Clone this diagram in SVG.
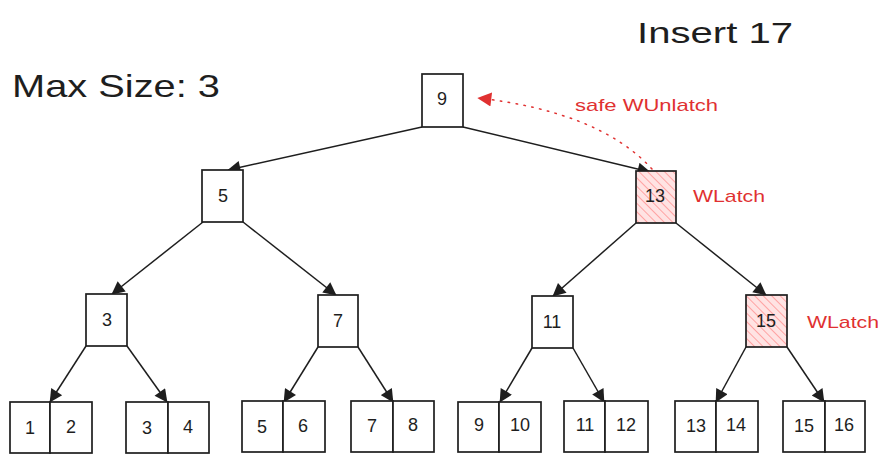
<svg xmlns="http://www.w3.org/2000/svg" width="890" height="463" viewBox="0 0 890 463">
  <style>
    .box { fill: #ffffff; stroke: #1e1e1e; stroke-width: 1.7; }
    .latched { fill: url(#hatch); stroke: #1e1e1e; stroke-width: 1.7; }
    .num { font-family: "Liberation Sans", Arial, sans-serif; font-size: 18px; fill: #1e1e1e; text-anchor: middle; dominant-baseline: central; }
    .edge { stroke: #1e1e1e; stroke-width: 1.5; fill: none; marker-end: url(#arrow); }
    .note { font-family: "Liberation Sans", Arial, sans-serif; font-size: 17px; fill: #e03131; }
    .title { font-family: "Liberation Sans", Arial, sans-serif; fill: #1e1e1e; }
  </style>
  <defs>
    <marker id="arrow" viewBox="0 0 10 10" refX="9.5" refY="5" markerWidth="15" markerHeight="13" markerUnits="userSpaceOnUse" orient="auto">
      <path d="M0,0 L10,5 L0,10 Z" fill="#1e1e1e"/>
    </marker>
    <marker id="redArrow" viewBox="0 0 10 10" refX="9.5" refY="5" markerWidth="15" markerHeight="14" markerUnits="userSpaceOnUse" orient="auto">
      <path d="M0,0 L10,5 L0,10 Z" fill="#e03131"/>
    </marker>
    <pattern id="hatch" width="6" height="6" patternUnits="userSpaceOnUse" patternTransform="rotate(-45)">
      <rect width="6" height="6" fill="#ffe3e3"/>
      <line x1="0" y1="0" x2="0" y2="6" stroke="#ff8787" stroke-width="1.4"/>
    </pattern>
  </defs>

  <!-- headings -->
  <text class="title" x="637" y="43" font-size="30" textLength="156" lengthAdjust="spacingAndGlyphs">Insert 17</text>
  <text class="title" x="12" y="97" font-size="32" textLength="208" lengthAdjust="spacingAndGlyphs">Max Size: 3</text>

  <!-- connectors -->
  <g id="connectors">
    <line class="edge" x1="422" y1="127" x2="228" y2="170"/>
    <line class="edge" x1="463" y1="127" x2="650" y2="172"/>
    <line class="edge" x1="203" y1="222" x2="112" y2="294"/>
    <line class="edge" x1="243" y1="222" x2="336" y2="295"/>
    <line class="edge" x1="636" y1="223" x2="553" y2="296"/>
    <line class="edge" x1="676" y1="223" x2="766" y2="295"/>
    <line class="edge" x1="86" y1="346" x2="50" y2="402"/>
    <line class="edge" x1="127" y1="346" x2="167" y2="402"/>
    <line class="edge" x1="318" y1="347" x2="284" y2="402"/>
    <line class="edge" x1="358" y1="347" x2="393" y2="402"/>
    <line class="edge" x1="532" y1="348" x2="500" y2="402"/>
    <line class="edge" x1="573" y1="348" x2="604" y2="402"/>
    <line class="edge" x1="746" y1="347" x2="716" y2="402"/>
    <line class="edge" x1="787" y1="347" x2="824" y2="402"/>
    <!-- unlatch path back to root -->
    <path d="M652,169 Q600,112 478,98" fill="none" stroke="#e03131" stroke-width="1.5" stroke-dasharray="1.5 6.5" stroke-linecap="round" marker-end="url(#redArrow)"/>
  </g>

  <!-- inner nodes -->
  <g id="node-9"><rect class="box" x="422" y="74" width="41" height="53"/><text class="num" x="442" y="99">9</text></g>
  <g id="node-5"><rect class="box" x="202" y="170" width="41" height="52"/><text class="num" x="223" y="196">5</text></g>
  <g id="node-13"><rect class="latched" x="636" y="171" width="40" height="52"/><text class="num" x="655" y="196">13</text></g>
  <g id="node-3"><rect class="box" x="86" y="294" width="41" height="52"/><text class="num" x="107" y="320">3</text></g>
  <g id="node-7"><rect class="box" x="318" y="295" width="40" height="52"/><text class="num" x="338" y="321">7</text></g>
  <g id="node-11"><rect class="box" x="532" y="296" width="41" height="52"/><text class="num" x="552" y="322">11</text></g>
  <g id="node-15"><rect class="latched" x="746" y="295" width="41" height="52"/><text class="num" x="766" y="321">15</text></g>

  <!-- leaf nodes -->
  <g id="leaf-1-2">
    <rect class="box" x="10" y="402" width="40" height="51"/><rect class="box" x="50" y="402" width="42" height="51"/>
    <text class="num" x="30" y="428">1</text><text class="num" x="71" y="427">2</text>
  </g>
  <g id="leaf-3-4">
    <rect class="box" x="126" y="402" width="42" height="51"/><rect class="box" x="168" y="402" width="41" height="51"/>
    <text class="num" x="147" y="428">3</text><text class="num" x="188" y="427">4</text>
  </g>
  <g id="leaf-5-6">
    <rect class="box" x="242" y="401" width="41" height="51"/><rect class="box" x="283" y="401" width="42" height="51"/>
    <text class="num" x="262" y="427">5</text><text class="num" x="303" y="426">6</text>
  </g>
  <g id="leaf-7-8">
    <rect class="box" x="351" y="401" width="42" height="51"/><rect class="box" x="393" y="401" width="41" height="51"/>
    <text class="num" x="372" y="426">7</text><text class="num" x="413" y="425">8</text>
  </g>
  <g id="leaf-9-10">
    <rect class="box" x="458" y="402" width="41" height="50"/><rect class="box" x="499" y="402" width="42" height="50"/>
    <text class="num" x="479" y="425">9</text><text class="num" x="520" y="425">10</text>
  </g>
  <g id="leaf-11-12">
    <rect class="box" x="564" y="401" width="41" height="51"/><rect class="box" x="605" y="401" width="43" height="51"/>
    <text class="num" x="585" y="425">11</text><text class="num" x="626" y="425">12</text>
  </g>
  <g id="leaf-13-14">
    <rect class="box" x="675" y="401" width="41" height="51"/><rect class="box" x="716" y="401" width="42" height="51"/>
    <text class="num" x="696" y="426">13</text><text class="num" x="736" y="425">14</text>
  </g>
  <g id="leaf-15-16">
    <rect class="box" x="783" y="401" width="42" height="51"/><rect class="box" x="825" y="401" width="40" height="51"/>
    <text class="num" x="804" y="426">15</text><text class="num" x="844" y="425">16</text>
  </g>

  <!-- latch notes -->
  <text class="note" x="575" y="111" textLength="143" lengthAdjust="spacingAndGlyphs">safe WUnlatch</text>
  <text class="note" x="693" y="202" textLength="72" lengthAdjust="spacingAndGlyphs">WLatch</text>
  <text class="note" x="807" y="328" textLength="72" lengthAdjust="spacingAndGlyphs">WLatch</text>
</svg>
